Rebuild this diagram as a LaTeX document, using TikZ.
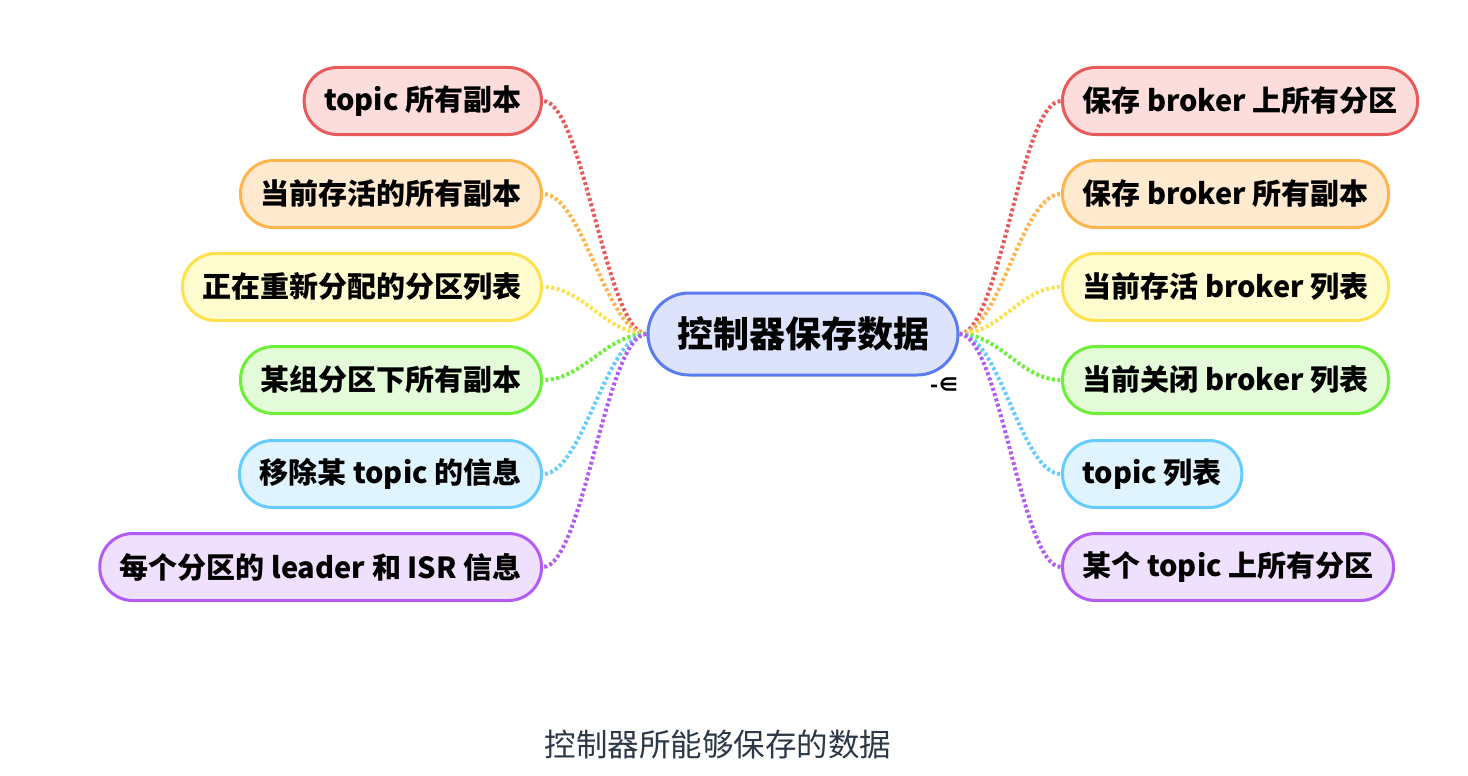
\documentclass[tikz,border=0pt]{standalone}
\usepackage{fontspec}
\setmainfont{Noto Sans CJK SC}
\usepackage{tikz}
\usetikzlibrary{arrows.meta}

\definecolor{lred}{RGB}{233,91,91}
\definecolor{fred}{RGB}{253,220,220}
\definecolor{lorange}{RGB}{255,181,77}
\definecolor{forange}{RGB}{255,233,207}
\definecolor{lyellow}{RGB}{255,225,77}
\definecolor{fyellow}{RGB}{255,252,207}
\definecolor{lgreen}{RGB}{108,240,58}
\definecolor{fgreen}{RGB}{227,251,217}
\definecolor{lblue}{RGB}{102,204,255}
\definecolor{fblue}{RGB}{224,244,255}
\definecolor{lpurple}{RGB}{179,92,245}
\definecolor{fpurple}{RGB}{239,224,253}
\definecolor{lroot}{RGB}{91,124,240}
\definecolor{froot}{RGB}{221,227,251}
\definecolor{captext}{RGB}{44,56,70}

\tikzset{leaf/.style = {draw, line width = 3pt, rounded corners = 33pt, minimum height = 67pt, inner xsep = 20pt, font = \fontsize{29}{32}\selectfont\bfseries}}
\tikzset{root/.style = {draw = lroot, fill = froot, line width = 3pt, rounded corners = 41pt, minimum height = 82pt, minimum width = 310pt, font = \fontsize{36}{40}\selectfont\bfseries}}
\tikzset{link/.style = {line width = 4pt, dash pattern = on 3pt off 2.5pt}}

\begin{document}
\begin{tikzpicture}[x = 1pt, y = -1pt]
	\useasboundingbox (0, 0) rectangle (1468, 776);

	\node[root] (c) at (803, 334) {控制器保存数据};
	\node[font = \fontsize{21}{21}\selectfont\bfseries] (fold) at (945, 385) {-∈};

	% left side
	\node[leaf, draw = lred, fill = fred, anchor = east] (l1) at (543, 101) {topic 所有副本};
	\node[leaf, draw = lorange, fill = forange, anchor = east] (l2) at (543, 194) {当前存活的所有副本};
	\node[leaf, draw = lyellow, fill = fyellow, anchor = east] (l3) at (543, 287) {正在重新分配的分区列表};
	\node[leaf, draw = lgreen, fill = fgreen, anchor = east] (l4) at (543, 380) {某组分区下所有副本};
	\node[leaf, draw = lblue, fill = fblue, anchor = east] (l5) at (543, 474) {移除某 topic 的信息};
	\node[leaf, draw = lpurple, fill = fpurple, anchor = east] (l6) at (543, 567) {每个分区的 leader 和 ISR 信息};

	% right side
	\node[leaf, draw = lred, fill = fred, anchor = west] (r1) at (1061, 101) {保存 broker 上所有分区};
	\node[leaf, draw = lorange, fill = forange, anchor = west] (r2) at (1061, 194) {保存 broker 所有副本};
	\node[leaf, draw = lyellow, fill = fyellow, anchor = west] (r3) at (1061, 287) {当前存活 broker 列表};
	\node[leaf, draw = lgreen, fill = fgreen, anchor = west] (r4) at (1061, 380) {当前关闭 broker 列表};
	\node[leaf, draw = lblue, fill = fblue, anchor = west] (r5) at (1061, 474) {topic 列表};
	\node[leaf, draw = lpurple, fill = fpurple, anchor = west] (r6) at (1061, 567) {某个 topic 上所有分区};

	\foreach \n/\col in {1/lred, 2/lorange, 3/lyellow, 4/lgreen, 5/lblue, 6/lpurple} {
		\draw[link, \col] (c.west) .. controls +(-40, 0) and +(40, 0) .. (l\n.east);
		\draw[link, \col] (c.east) .. controls +(40, 0) and +(-40, 0) .. (r\n.west);
	}

	\node[text = captext, font = \fontsize{31.5}{34}\selectfont] (cap) at (718, 745) {控制器所能够保存的数据};
\end{tikzpicture}
\end{document}
